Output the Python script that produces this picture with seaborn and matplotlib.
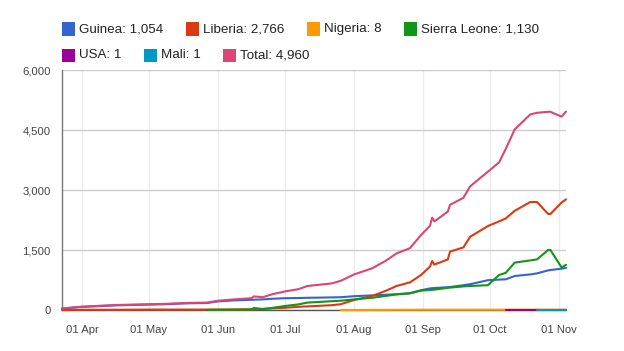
import numpy as np
import pandas as pd
import matplotlib
matplotlib.use("Agg")
import matplotlib.pyplot as plt
import matplotlib.dates as mdates
from matplotlib.patches import Rectangle
import seaborn as sns

# -------------------- Data -------------------- #
nan = np.nan
dates = ["2014-03-23", "2014-04-01", "2014-04-16", "2014-05-01", "2014-05-09",
         "2014-05-17", "2014-05-27", "2014-06-01", "2014-06-08", "2014-06-16",
         "2014-06-17", "2014-06-21", "2014-06-25", "2014-07-01", "2014-07-07",
         "2014-07-11", "2014-07-22", "2014-07-26", "2014-08-01", "2014-08-09",
         "2014-08-15", "2014-08-20", "2014-08-26", "2014-08-31", "2014-09-04",
         "2014-09-05", "2014-09-06", "2014-09-12", "2014-09-13", "2014-09-19",
         "2014-09-22", "2014-09-30", "2014-10-05", "2014-10-08", "2014-10-12",
         "2014-10-19", "2014-10-22", "2014-10-27", "2014-10-28", "2014-11-02",
         "2014-11-04"]

guinea = [35, 78, 115, 135, 145, 165, 175, 215, 240, 255,
          258, 265, 280, 295, 300, 305, 315, 320, 345, 365,
          380, 395, 420, 495, 540, 545, 550, 570, 575, 620,
          645, 745, 760, 767, 850, 890, 915, 990, 1000, 1033,
          1054]
liberia = [2, 5, 6, 11, 11, 11, 11, 11, 12, 16,
           20, 25, 40, 55, 80, 90, 120, 145, 250, 350,
           475, 600, 690, 875, 1085, 1225, 1135, 1265, 1460, 1565,
           1830, 2100, 2215, 2290, 2480, 2700, 2700, 2400, 2400, 2685,
           2766]
nigeria = [nan] * 17 + [1, 1, 2, 4, 5, 6, 7] + [8] * 17
sierra_leone = [nan] * 6 + [3, 6, 10, 15,
                50, 25, 50, 100, 140, 185, 220, 232, 265, 305,
                350, 390, 415, 485, 500, 505, 510, 555, 560, 590,
                600, 620, 875, 930, 1185, 1240, 1265, 1500, 1500, 1065,
                1130]
usa = [nan] * 33 + [1] * 8
mali = [nan] * 36 + [1] * 5
total = [40, 83, 125, 145, 155, 175, 185, 232, 265, 295,
         340, 320, 390, 465, 520, 600, 665, 730, 890, 1040,
         1225, 1415, 1545, 1875, 2105, 2310, 2215, 2460, 2630, 2805,
         3090, 3460, 3690, 4030, 4515, 4890, 4930, 4955, 4955, 4835,
         4960]

series_names = ["Guinea", "Liberia", "Nigeria", "Sierra Leone", "USA", "Mali", "Total"]
series_colors = ["#3366CC", "#DC3912", "#FF9900", "#109618", "#990099", "#0099C6", "#DD4477"]
y_ticks = [0, 1500, 3000, 4500, 6000]

# -------------------- Build long-form table -------------------- #
wide = pd.DataFrame({
    "date": pd.to_datetime(dates),
    "Guinea": guinea,
    "Liberia": liberia,
    "Nigeria": nigeria,
    "Sierra Leone": sierra_leone,
    "USA": usa,
    "Mali": mali,
    "Total": total,
})
df = wide.melt(id_vars="date", var_name="country", value_name="deaths").dropna()

# -------------------- Plot -------------------- #
sns.set_style("white")
plt.rcParams["font.family"] = ["Liberation Sans", "DejaVu Sans"]

fig = plt.figure(figsize=(6.24, 3.51), dpi=100)
ax = fig.add_axes([62 / 624, 1 - 310 / 351, (566 - 62) / 624, 240 / 351])

sns.lineplot(data=df, x="date", y="deaths", hue="country",
             hue_order=series_names, palette=dict(zip(series_names, series_colors)),
             linewidth=1.5, legend=False, ax=ax, zorder=3, clip_on=False)

ax.set_xlim(wide["date"].iloc[0], wide["date"].iloc[-1])
ax.set_ylim(0, 6000)
ax.set_yticks(y_ticks)
ax.set_yticklabels([f"{v:,}" for v in y_ticks])
ax.xaxis.set_major_locator(mdates.MonthLocator())
ax.xaxis.set_major_formatter(mdates.DateFormatter("%d %b"))
ax.set_xlabel("")
ax.set_ylabel("")

ax.grid(axis="y", color="#cccccc", linewidth=1)
ax.grid(axis="x", color="#ebebeb", linewidth=1)
ax.tick_params(axis="both", length=0, labelsize=8.1, colors="#444444")
ax.tick_params(axis="x", pad=11)
ax.tick_params(axis="y", pad=8)

for side in ["top", "right"]:
    ax.spines[side].set_visible(False)
ax.spines["left"].set_color("#777777")
ax.spines["bottom"].set_color("#555555")
ax.spines["left"].set_linewidth(1)
ax.spines["bottom"].set_linewidth(1)

# -------------------- Legend (flowing, like the original) -------------------- #
final_values = [guinea[-1], liberia[-1], nigeria[-1], sierra_leone[-1],
                usa[-1], mali[-1], total[-1]]
legend_x = [62, 186, 307, 404, 62, 144, 223]
legend_y = [29, 29, 29, 29, 55, 55, 55]
for name, color, val, lx, ly in zip(series_names, series_colors, final_values, legend_x, legend_y):
    fig.patches.append(Rectangle((lx / 624, 1 - (ly + 6.5) / 351), 13 / 624, 13 / 351,
                                 transform=fig.transFigure, facecolor=color,
                                 edgecolor="none"))
    fig.text((lx + 17) / 624, 1 - ly / 351, f"{name}: {int(val):,}",
             fontsize=9.6, color="#222222", va="center", ha="left")

fig.savefig("out.png", dpi=100)
